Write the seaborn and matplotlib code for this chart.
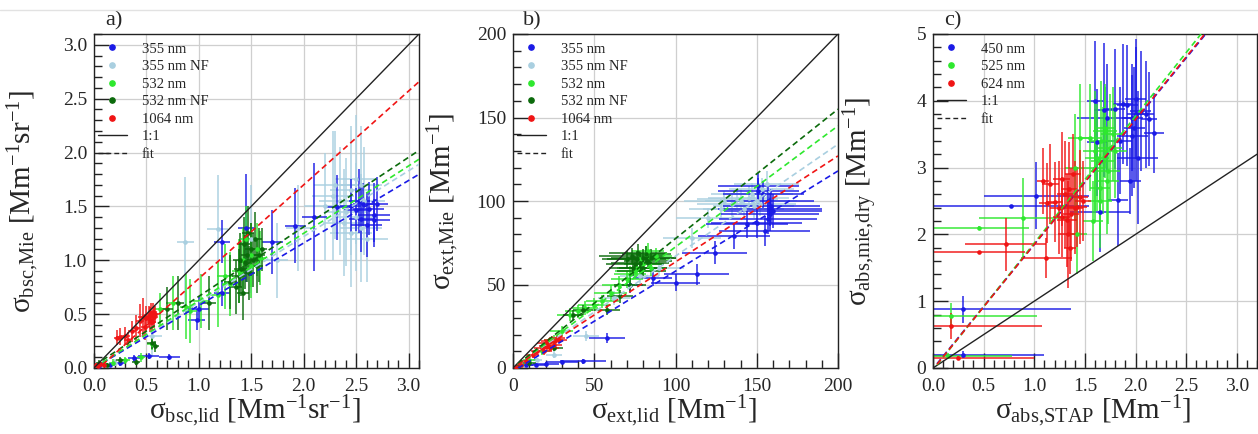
import matplotlib
matplotlib.use("Agg")
import matplotlib.pyplot as plt
from matplotlib.lines import Line2D
from matplotlib.ticker import MultipleLocator, FormatStrFormatter
import numpy as np
import seaborn as sns

# ---------------- data: panel a (backscatter, Mm^-1 sr^-1) ----------------
a_labels = ["355 nm NF", "355 nm", "532 nm", "532 nm NF", "1064 nm"]

a_lb_x = [0.20, 0.55, 0.87, 1.18, 1.50, 1.75, 1.95, 2.20, 2.28, 2.35, 2.40, 2.45, 2.50, 2.55, 2.58, 2.30, 2.50, 2.45, 2.55, 2.60, 2.38]
a_lb_y = [0.05, 0.30, 1.17, 1.29, 1.20, 1.00, 1.30, 1.50, 1.60, 1.55, 1.45, 1.65, 1.40, 1.30, 1.55, 1.70, 1.75, 1.25, 1.70, 1.20, 1.35]
a_lb_xe = [0.05, 0.10, 0.08, 0.10, 0.10, 0.10, 0.12, 0.20, 0.20, 0.20, 0.20, 0.20, 0.20, 0.20, 0.20, 0.20, 0.20, 0.20, 0.20, 0.20, 0.20]
a_lb_ye = [0.03, 0.20, 0.60, 0.50, 0.50, 0.35, 0.40, 0.50, 0.60, 0.50, 0.50, 0.60, 0.50, 0.50, 0.50, 0.50, 0.60, 0.50, 0.55, 0.40, 0.50]

a_b_x = [0.05, 0.15, 0.25, 0.38, 0.52, 0.72, 0.98, 1.00, 1.22, 1.22, 1.45, 1.70, 1.92, 2.10, 2.32, 2.45, 2.53, 2.50, 2.60, 2.62, 2.67, 2.67, 2.70, 2.57, 2.55]
a_b_y = [0.02, 0.03, 0.05, 0.09, 0.11, 0.10, 0.45, 0.55, 0.70, 1.17, 1.30, 1.17, 1.32, 1.40, 1.49, 1.50, 1.55, 1.47, 1.33, 1.48, 1.42, 1.37, 1.52, 1.52, 1.38]
a_b_xe = [0.03, 0.05, 0.05, 0.06, 0.10, 0.10, 0.08, 0.10, 0.08, 0.08, 0.08, 0.10, 0.10, 0.12, 0.12, 0.10, 0.10, 0.12, 0.15, 0.15, 0.15, 0.15, 0.10, 0.10, 0.12]
a_b_ye = [0.02, 0.02, 0.03, 0.03, 0.03, 0.03, 0.10, 0.12, 0.12, 0.20, 0.50, 0.30, 0.35, 0.50, 0.30, 0.25, 0.30, 0.20, 0.30, 0.25, 0.30, 0.20, 0.25, 0.20, 0.30]

a_g_x = [0.55, 0.63, 0.75, 0.88, 0.92, 1.02, 1.18, 1.25, 1.30, 1.38, 1.42, 1.50, 1.55, 1.50, 1.45, 1.58, 0.30, 0.18, 0.10, 0.45]
a_g_y = [0.22, 0.55, 0.60, 0.57, 0.53, 0.62, 0.68, 0.85, 0.78, 0.90, 1.00, 1.05, 1.10, 0.95, 1.20, 1.02, 0.07, 0.05, 0.04, 0.10]
a_g_xe = [0.04, 0.05, 0.06, 0.06, 0.06, 0.08, 0.08, 0.08, 0.08, 0.06, 0.05, 0.05, 0.05, 0.05, 0.05, 0.06, 0.04, 0.04, 0.03, 0.04]
a_g_ye = [0.05, 0.15, 0.25, 0.30, 0.30, 0.25, 0.30, 0.30, 0.30, 0.30, 0.30, 0.30, 0.25, 0.30, 0.30, 0.25, 0.03, 0.03, 0.02, 0.04]

a_dg_x = [0.55, 0.58, 0.70, 0.80, 1.10, 1.30, 1.35, 1.38, 1.40, 1.42, 1.44, 1.46, 1.48, 1.50, 1.52, 1.54, 1.55, 1.57, 1.60, 1.47, 1.43, 1.39, 0.40, 0.25, 0.12, 0.05]
a_dg_y = [0.23, 0.20, 0.55, 0.60, 0.60, 0.80, 0.75, 0.85, 0.92, 0.70, 0.98, 1.05, 0.88, 1.10, 1.00, 1.20, 0.95, 1.05, 1.10, 1.25, 1.15, 1.00, 0.06, 0.07, 0.03, 0.05]
a_dg_xe = [0.04, 0.04, 0.05, 0.06, 0.06, 0.06, 0.06, 0.06, 0.06, 0.06, 0.06, 0.06, 0.06, 0.06, 0.06, 0.06, 0.06, 0.06, 0.05, 0.06, 0.06, 0.06, 0.04, 0.04, 0.03, 0.03]
a_dg_ye = [0.05, 0.05, 0.20, 0.25, 0.25, 0.25, 0.25, 0.25, 0.25, 0.25, 0.25, 0.25, 0.25, 0.25, 0.25, 0.25, 0.25, 0.25, 0.20, 0.25, 0.25, 0.25, 0.03, 0.03, 0.02, 0.02]

a_r_x = [0.02, 0.04, 0.07, 0.10, 0.22, 0.25, 0.30, 0.32, 0.36, 0.40, 0.44, 0.47, 0.49, 0.50, 0.52, 0.53, 0.54, 0.55, 0.56, 0.57, 0.58]
a_r_y = [0.03, 0.02, 0.04, 0.03, 0.28, 0.29, 0.30, 0.26, 0.34, 0.37, 0.44, 0.47, 0.38, 0.46, 0.48, 0.45, 0.50, 0.43, 0.52, 0.47, 0.50]
a_r_xe = [0.02, 0.02, 0.02, 0.03, 0.03, 0.04, 0.04, 0.03, 0.04, 0.04, 0.04, 0.05, 0.04, 0.04, 0.04, 0.04, 0.04, 0.04, 0.04, 0.04, 0.04]
a_r_ye = [0.02, 0.02, 0.02, 0.02, 0.07, 0.08, 0.08, 0.07, 0.10, 0.12, 0.15, 0.18, 0.12, 0.12, 0.10, 0.12, 0.10, 0.10, 0.08, 0.10, 0.08]

a_fit_slope = [0.61, 0.58, 0.625, 0.645, 0.87]
a_fit_icpt = [0.00, 0.00, 0.00, 0.02, -0.04]

# ---------------- data: panel b (extinction, Mm^-1) ----------------
b_lb_x = [15, 25, 45, 62, 78, 90, 110, 120, 128, 135, 140, 145, 150, 148, 153, 156, 142, 138, 130, 147, 152]
b_lb_y = [5, 8, 19, 42, 55, 60, 78, 90, 95, 98, 100, 102, 100, 97, 107, 110, 95, 101, 100, 104, 98]
b_lb_xe = [3, 5, 8, 10, 12, 15, 18, 20, 20, 22, 22, 25, 25, 25, 20, 20, 25, 25, 25, 25, 22]
b_lb_ye = [1, 2, 3, 4, 5, 5, 6, 6, 6, 7, 7, 7, 7, 7, 7, 8, 6, 6, 6, 7, 7]

b_b_x = [3, 8, 14, 20, 30, 43, 58, 72, 86, 100, 113, 124, 136, 144, 150, 155, 151, 157, 158, 158, 159, 151, 154, 157, 160]
b_b_y = [1, 1.5, 2, 2.5, 3.5, 4, 18, 50, 54, 51, 56, 69, 79, 86, 87, 82, 109, 89, 92, 95, 97, 106, 104, 100, 94]
b_b_xe = [2, 4, 6, 8, 10, 14, 11, 8, 12, 15, 20, 20, 22, 25, 28, 28, 25, 30, 30, 32, 30, 25, 25, 28, 30]
b_b_ye = [1, 1, 1, 1, 1, 1.5, 3, 5, 5, 5, 6, 7, 8, 8, 9, 9, 8, 9, 10, 10, 10, 8, 8, 10, 10]

b_g_x = [5, 10, 18, 25, 30, 35, 40, 44, 50, 55, 60, 65, 70, 75, 78, 80, 82, 85, 84, 76, 72, 88, 83]
b_g_y = [2, 5, 10, 17, 22, 32, 34, 36, 38, 40, 45, 50, 53, 58, 65, 62, 68, 60, 65, 60, 56, 67, 70]
b_g_xe = [3, 4, 5, 6, 7, 8, 8, 8, 10, 10, 10, 10, 10, 12, 12, 12, 12, 10, 12, 12, 10, 10, 10]
b_g_ye = [1, 2, 2, 3, 3, 4, 4, 4, 4, 4, 5, 5, 5, 5, 5, 5, 5, 5, 5, 5, 5, 5, 5]

b_dg_x = [3, 10, 25, 37, 43, 58, 66, 72, 74, 76, 78, 80, 82, 75, 70, 79, 83, 77, 73, 85, 80]
b_dg_y = [1, 3, 12, 32, 35, 35, 43, 50, 60, 65, 63, 66, 68, 62, 65, 58, 64, 69, 67, 66, 60]
b_dg_xe = [2, 4, 6, 6, 6, 8, 8, 10, 15, 18, 18, 20, 15, 18, 15, 15, 15, 18, 20, 15, 15]
b_dg_ye = [1, 1, 2, 3, 3, 3, 4, 4, 5, 5, 5, 5, 5, 5, 5, 5, 5, 5, 5, 5, 5]

b_r_x = [2, 5, 8, 12, 15, 18, 20, 22, 24, 25, 27, 26, 28, 21, 19, 23]
b_r_y = [0.5, 2, 4, 8, 10, 12, 15, 16, 17, 14, 18, 16, 17, 13, 10, 12]
b_r_xe = [1.5, 2, 3, 4, 4, 5, 5, 5, 5, 5, 5, 5, 5, 5, 5, 5]
b_r_ye = [0.5, 1, 1, 2, 2, 2, 2, 2, 2, 2, 2, 2, 2, 2, 2, 2]

b_fit_slope = [0.67, 0.60, 0.725, 0.775, 0.635]
b_fit_icpt = [0.0, -2.0, 0.0, 0.0, 0.0]

# ---------------- data: panel c (absorption, Mm^-1) ----------------
c_labels = ["450 nm", "525 nm", "624 nm"]

c_b_x = [0.30, 0.30, 0.77, 1.02, 1.60, 1.62, 1.65, 1.69, 1.72, 1.80, 1.83, 1.85, 1.88, 1.92, 1.95, 1.97, 1.97, 2.00, 2.00, 2.02, 2.05, 2.10, 2.13, 2.18, 1.99]
c_b_y = [0.20, 0.88, 2.42, 2.58, 4.00, 3.38, 2.34, 3.86, 3.75, 3.88, 2.52, 3.40, 3.95, 3.93, 2.80, 3.48, 3.75, 3.80, 4.03, 3.15, 3.85, 3.80, 3.73, 3.52, 3.60]
c_b_xe = [0.80, 1.06, 0.77, 0.52, 0.08, 0.10, 0.30, 0.10, 0.30, 0.10, 0.10, 0.12, 0.10, 0.10, 0.10, 0.15, 0.10, 0.08, 0.10, 0.20, 0.10, 0.08, 0.08, 0.10, 0.10]
c_b_ye = [0.05, 0.20, 0.02, 0.50, 0.90, 0.80, 0.60, 1.00, 0.80, 0.90, 0.70, 0.80, 0.90, 0.90, 0.50, 0.90, 0.80, 1.00, 0.90, 1.00, 0.90, 0.80, 0.70, 0.60, 0.90]

c_g_x = [0.15, 0.18, 0.45, 0.89, 1.40, 1.42, 1.45, 1.55, 1.58, 1.60, 1.62, 1.65, 1.66, 1.68, 1.70, 1.72, 1.75, 1.78, 1.80, 1.65, 1.70, 1.60, 1.73]
c_g_y = [0.18, 0.78, 2.10, 2.25, 3.00, 2.00, 3.45, 3.45, 2.20, 3.25, 3.15, 2.70, 3.40, 3.10, 3.55, 2.80, 3.30, 3.50, 3.25, 2.50, 3.60, 3.00, 2.95]
c_g_xe = [0.63, 0.85, 0.50, 0.44, 0.10, 0.10, 0.12, 0.12, 0.10, 0.12, 0.12, 0.10, 0.12, 0.12, 0.12, 0.12, 0.12, 0.12, 0.12, 0.12, 0.10, 0.10, 0.12]
c_g_ye = [0.05, 0.20, 0.02, 0.60, 0.80, 0.60, 0.80, 0.80, 0.60, 0.90, 0.80, 0.70, 0.90, 0.80, 0.70, 0.80, 0.80, 0.70, 0.70, 0.70, 0.60, 0.80, 0.80]

c_r_x = [0.25, 0.18, 0.45, 0.72, 1.12, 1.09, 1.13, 1.16, 1.20, 1.24, 1.27, 1.27, 1.30, 1.32, 1.34, 1.35, 1.38, 1.40, 1.42, 1.45, 1.48, 1.33, 1.36]
c_r_y = [0.15, 0.63, 1.73, 1.85, 1.65, 2.80, 2.47, 2.75, 2.48, 2.40, 2.83, 2.26, 2.60, 2.21, 2.68, 1.80, 2.90, 2.40, 2.41, 2.56, 2.50, 2.00, 2.30]
c_r_xe = [0.75, 0.90, 0.46, 0.40, 0.25, 0.06, 0.08, 0.08, 0.08, 0.08, 0.08, 0.08, 0.08, 0.10, 0.08, 0.06, 0.08, 0.08, 0.10, 0.08, 0.08, 0.10, 0.08]
c_r_ye = [0.03, 0.20, 0.02, 0.40, 0.30, 0.50, 0.60, 0.60, 0.60, 0.70, 0.70, 0.60, 0.80, 0.70, 0.70, 0.40, 0.60, 0.70, 0.60, 0.70, 0.60, 0.80, 0.70]

c_fit_slope = [1.86, 1.90, 1.87]
c_fit_icpt = [-0.01, -0.03, -0.02]

# ---------------- style ----------------
sns.set_theme(style="white")
plt.rcParams["font.family"] = ["Liberation Serif", "DejaVu Serif"]
plt.rcParams["mathtext.fontset"] = "custom"
plt.rcParams["mathtext.rm"] = "Liberation Serif"
plt.rcParams["mathtext.it"] = "Liberation Serif:italic"
plt.rcParams["mathtext.bf"] = "Liberation Serif:bold"

C_BLUE = "#1a1ae6"
C_LBLUE = "#a9cfe0"
C_GREEN = "#2ee82e"
C_DGREEN = "#0b6a0b"
C_RED = "#f01414"
legend_order_a = ["355 nm", "355 nm NF", "532 nm", "532 nm NF", "1064 nm"]
col_a = {"355 nm": C_BLUE, "355 nm NF": C_LBLUE, "532 nm": C_GREEN,
         "532 nm NF": C_DGREEN, "1064 nm": C_RED}
col_c = {"450 nm": C_BLUE, "525 nm": C_GREEN, "624 nm": C_RED}

W, H = 1258, 434
fig = plt.figure(figsize=(W / 100, H / 100), dpi=100)
fig.patch.set_facecolor("white")
fig.add_artist(Line2D([0, 1], [1 - 10 / H, 1 - 10 / H], color="#e2e2e2", lw=1.0))

def make_ax(left_px, width_px):
    return fig.add_axes([left_px / W, (H - 368) / H, width_px / W, 334 / H])

axA = make_ax(94, 325)
axB = make_ax(513, 325)
axC = make_ax(933, 324)

def draw_series(ax, x, y, xe, ye, color):
    ax.errorbar(x, y, xerr=xe, yerr=ye, fmt="none", ecolor=color, elinewidth=1.3,
                alpha=0.8, capsize=0, zorder=2)
    sns.scatterplot(x=x, y=y, color=color, s=11, linewidth=0, ax=ax, zorder=3,
                    legend=False)

def style_ax(ax, xmax, ymax, xmaj, xmin, ymaj, ymin, xfmt, yfmt, xlabel, ylabel, tag,
             ylab_x):
    ax.set_xlim(0, xmax)
    ax.set_ylim(0, ymax)
    ax.xaxis.set_major_locator(MultipleLocator(xmaj))
    ax.xaxis.set_minor_locator(MultipleLocator(xmin))
    ax.yaxis.set_major_locator(MultipleLocator(ymaj))
    ax.yaxis.set_minor_locator(MultipleLocator(ymin))
    ax.xaxis.set_major_formatter(FormatStrFormatter(xfmt))
    ax.yaxis.set_major_formatter(FormatStrFormatter(yfmt))
    ax.tick_params(which="major", direction="in", length=11, width=1.0, color="#222222",
                   labelsize=14, bottom=True, left=True, top=False, right=False)
    ax.tick_params(axis="x", which="major", pad=7)
    ax.tick_params(axis="y", which="major", pad=5)
    ax.tick_params(which="minor", direction="in", length=5.5, width=1.0, color="#222222",
                   bottom=True, left=True, top=False, right=False)
    ax.grid(True, which="major", color="#cfcfcf", lw=0.9)
    ax.set_axisbelow(True)
    for s in ax.spines.values():
        s.set_color("#222222")
        s.set_linewidth(1.0)
    ax.set_xlabel(xlabel, fontsize=21)
    ax.set_ylabel(ylabel, fontsize=21)
    ax.xaxis.set_label_coords(0.495, -0.078)
    ax.yaxis.set_label_coords(ylab_x, 0.5)
    ax.text(0.06, 1.026, tag, transform=ax.transAxes, ha="center", va="baseline",
            fontsize=16)

def fit_lines(ax, slopes, icpts, colors, x0, xmax, ymax):
    for k, c, col in zip(slopes, icpts, colors):
        x1 = min(xmax, (ymax - c) / k)
        xs = np.array([x0, x1])
        ax.plot(xs, k * xs + c, color=col, lw=1.2, ls=(0, (3.5, 2.2)), zorder=5)

def legend(ax, names, colors):
    handles = [Line2D([], [], marker="o", ls="none", color=c, markersize=3.8) for c in colors]
    handles += [Line2D([], [], color="#222222", lw=1.0),
                Line2D([], [], color="#222222", lw=1.0, ls=(0, (3.5, 2.2)))]
    labels = list(names) + ["1:1", "fit"]
    ax.legend(handles, labels, loc="upper left", bbox_to_anchor=(0.012, 0.975),
              frameon=False, fontsize=10.5, handlelength=2.0, handletextpad=1.0,
              labelspacing=0.3, borderpad=0, borderaxespad=0)

# ---------------- panel a ----------------
seriesA = [
    ("355 nm NF", a_lb_x, a_lb_y, a_lb_xe, a_lb_ye),
    ("355 nm", a_b_x, a_b_y, a_b_xe, a_b_ye),
    ("532 nm", a_g_x, a_g_y, a_g_xe, a_g_ye),
    ("532 nm NF", a_dg_x, a_dg_y, a_dg_xe, a_dg_ye),
    ("1064 nm", a_r_x, a_r_y, a_r_xe, a_r_ye),
]
for name, x, y, xe, ye in seriesA:
    draw_series(axA, x, y, xe, ye, col_a[name])
axA.plot([0, 3.1], [0, 3.1], color="#222222", lw=1.0, zorder=4)
fit_lines(axA, a_fit_slope, a_fit_icpt, [col_a[n] for n in a_labels], 0.08, 3.1, 3.1)
style_ax(axA, 3.1, 3.1, 0.5, 0.1, 0.5, 0.1, "%.1f", "%.1f",
         r"σ$_{\rm bsc{,}lid}$ [Mm$^{-1}$sr$^{-1}$]",
         r"σ$_{\rm bsc{,}Mie}$ [Mm$^{-1}$sr$^{-1}$]", "a)", -0.16)
legend(axA, legend_order_a, [col_a[n] for n in legend_order_a])

# ---------------- panel b ----------------
seriesB = [
    ("355 nm NF", b_lb_x, b_lb_y, b_lb_xe, b_lb_ye),
    ("355 nm", b_b_x, b_b_y, b_b_xe, b_b_ye),
    ("532 nm", b_g_x, b_g_y, b_g_xe, b_g_ye),
    ("532 nm NF", b_dg_x, b_dg_y, b_dg_xe, b_dg_ye),
    ("1064 nm", b_r_x, b_r_y, b_r_xe, b_r_ye),
]
for name, x, y, xe, ye in seriesB:
    draw_series(axB, x, y, xe, ye, col_a[name])
axB.plot([0, 200], [0, 200], color="#222222", lw=1.0, zorder=4)
fit_lines(axB, b_fit_slope, b_fit_icpt, [col_a[n] for n in a_labels], 3, 200, 200)
style_ax(axB, 200, 200, 50, 10, 50, 10, "%d", "%d",
         r"σ$_{\rm ext{,}lid}$ [Mm$^{-1}$]",
         r"σ$_{\rm ext{,}Mie}$ [Mm$^{-1}$]", "b)", -0.157)
legend(axB, legend_order_a, [col_a[n] for n in legend_order_a])

# ---------------- panel c ----------------
seriesC = [
    ("450 nm", c_b_x, c_b_y, c_b_xe, c_b_ye),
    ("525 nm", c_g_x, c_g_y, c_g_xe, c_g_ye),
    ("624 nm", c_r_x, c_r_y, c_r_xe, c_r_ye),
]
for name, x, y, xe, ye in seriesC:
    draw_series(axC, x, y, xe, ye, col_c[name])
axC.plot([0, 3.2], [0, 3.2], color="#222222", lw=1.0, zorder=4)
fit_lines(axC, c_fit_slope, c_fit_icpt, [col_c[n] for n in c_labels], 0.04, 3.2, 5.0)
style_ax(axC, 3.2, 5.0, 0.5, 0.1, 1, 0.2, "%.1f", "%d",
         r"σ$_{\rm abs{,}STAP}$ [Mm$^{-1}$]",
         r"σ$_{\rm abs{,}mie{,}dry}$ [Mm$^{-1}$]", "c)", -0.164)
legend(axC, c_labels, [col_c[n] for n in c_labels])

fig.savefig("out.png", dpi=100, facecolor="white")
